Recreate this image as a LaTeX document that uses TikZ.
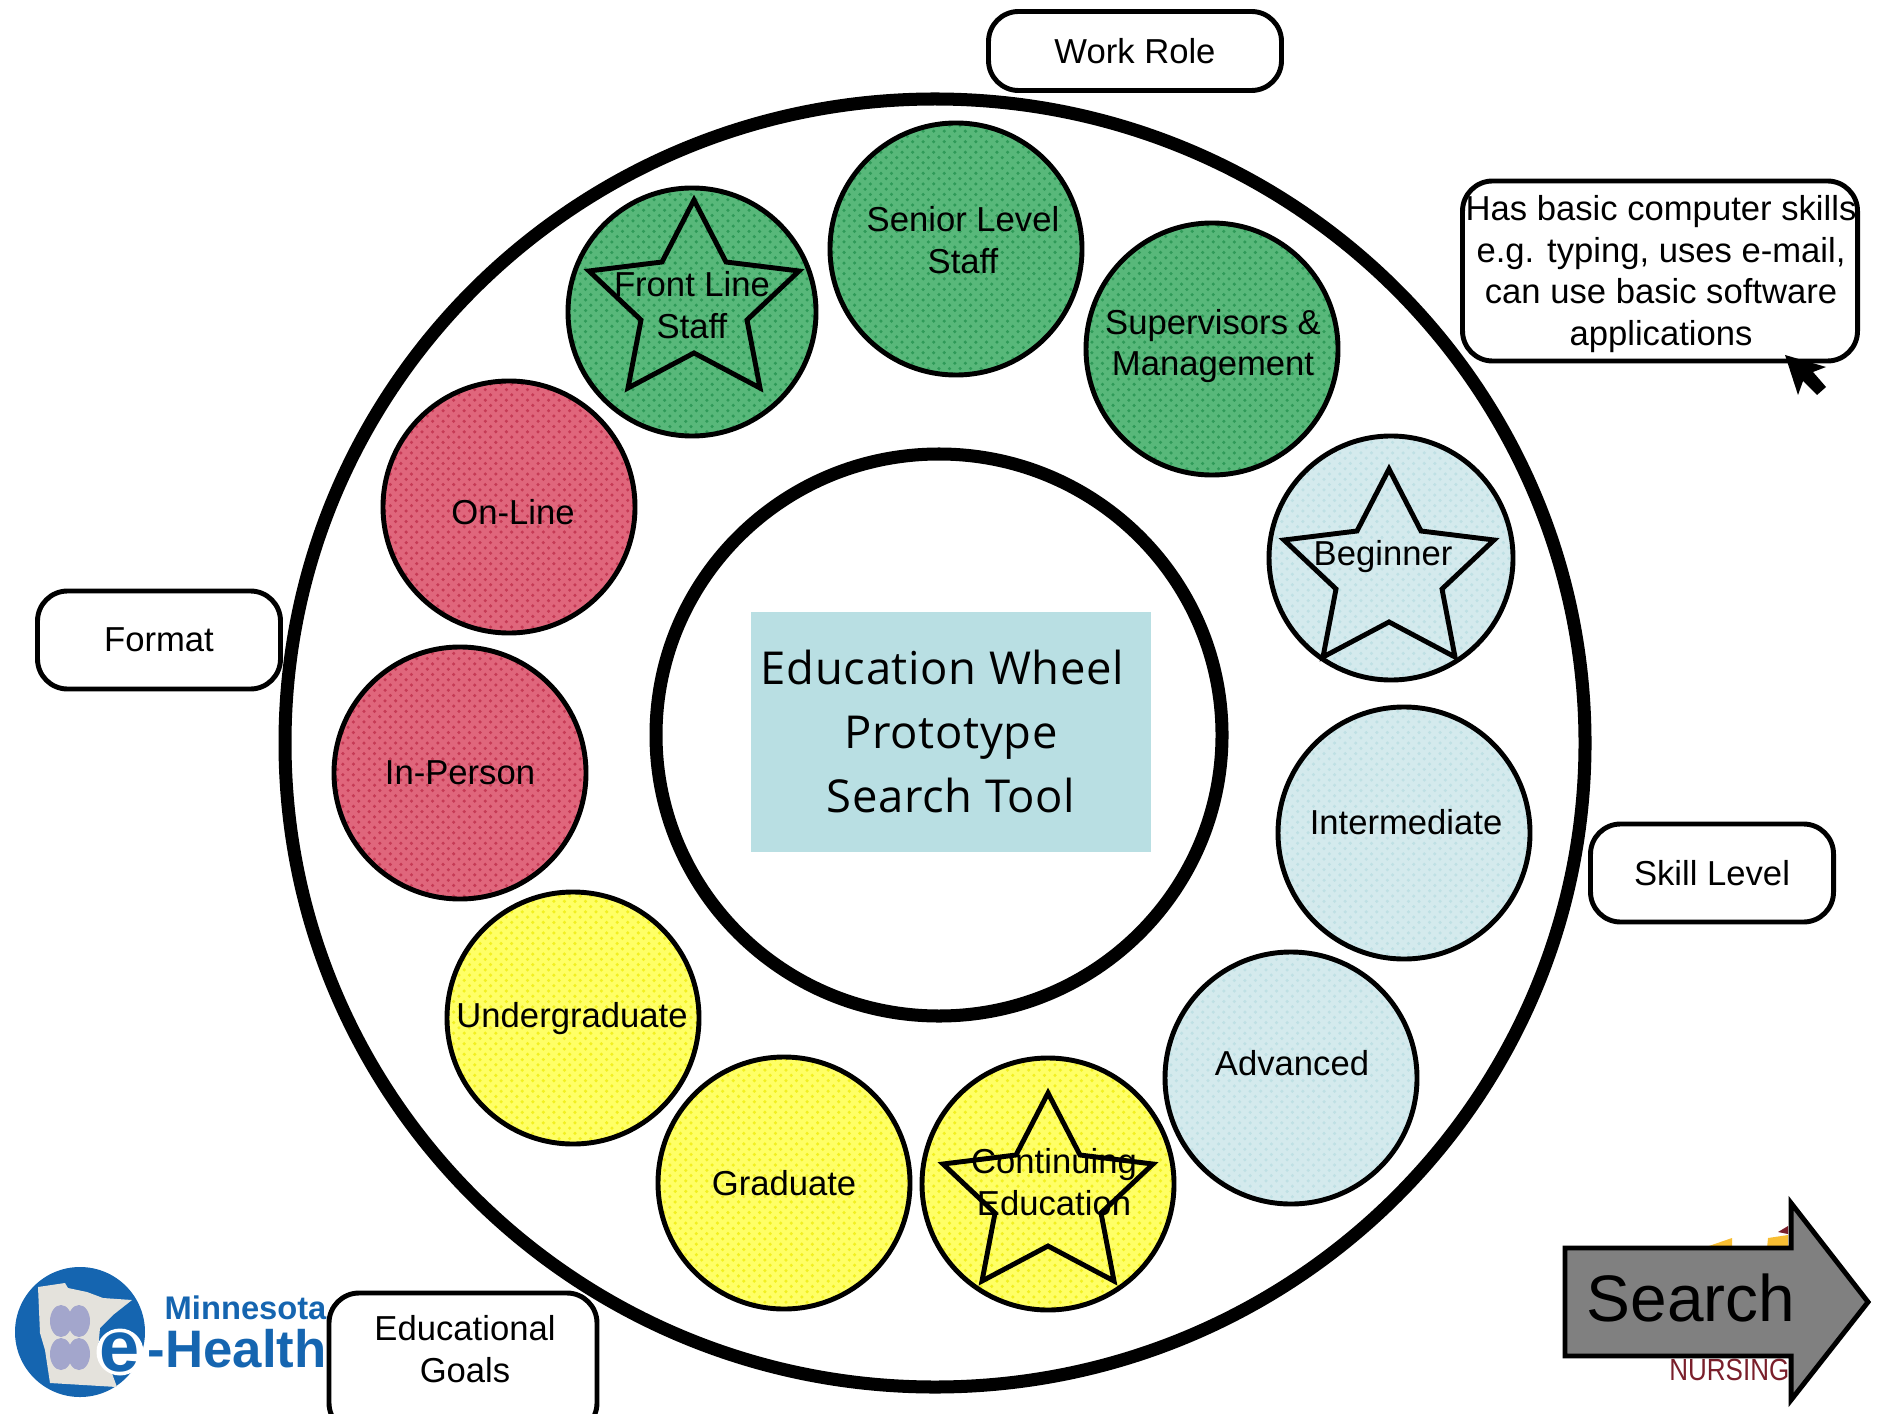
\documentclass[tikz,border=0pt]{standalone}
\usepackage{fontspec}
\usepackage{graphicx}
\setmainfont{Liberation Sans}
\newfontfamily\wheelfont[LetterSpace=1.5]{Open Sans}
\usetikzlibrary{shapes,patterns,positioning}
\definecolor{roleGreen}{HTML}{58B87A}
\definecolor{roleGreenDark}{HTML}{2F9A58}
\definecolor{formatRed}{HTML}{E0667C}
\definecolor{formatRedDark}{HTML}{C63A55}
\definecolor{goalYellow}{HTML}{FFFF66}
\definecolor{goalYellowDark}{HTML}{F2F020}
\definecolor{skillBlue}{HTML}{D4EAED}
\definecolor{skillBlueDark}{HTML}{BFE0E4}
\definecolor{hubBlue}{HTML}{B9DFE3}
\definecolor{logoBlue}{HTML}{1565B0}
\definecolor{logoMap}{HTML}{E4E2DC}
\definecolor{logoFlower}{HTML}{A3A6CC}
\definecolor{nursingRed}{HTML}{7A1F2B}
\definecolor{nursingGold}{HTML}{F8BE33}
\newlength{\wheelunit}
\setlength{\wheelunit}{0.01cm}
\tikzset{
  wheelring/.style={draw, ellipse, line width=3.7pt, inner sep=0pt},
  choice/.style={draw, circle, line width=1.4pt, minimum size=252\wheelunit, inner sep=0pt},
  dithered/.style 2 args={preaction={fill=#1}, preaction={pattern=crosshatch dots, pattern color=#2}},
  rolefill/.style={dithered={roleGreen}{roleGreenDark}},
  formatfill/.style={dithered={formatRed}{formatRedDark}},
  goalfill/.style={dithered={goalYellow}{goalYellowDark}},
  skillfill/.style={dithered={skillBlue}{skillBlueDark}},
  choicetext/.style={align=center, font=\fontsize{9.85}{11.9}\selectfont},
  category/.style={draw, rectangle, rounded corners=0.3cm, line width=1.4pt, fill=white, inner sep=0pt,
    align=center, font=\fontsize{9.85}{11.9}\selectfont},
  starmark/.pic={
    \draw[line width=1.4pt, line join=miter, miter limit=3] (0,0) -- (32,62) -- (105,71) -- (53,120) -- (66,188) -- (0,153)
      -- (-66,188) -- (-53,120) -- (-105,71) -- (-32,62) -- cycle;
  }
}
\begin{document}
\begin{tikzpicture}[x=0.01cm, y=-0.01cm]
\clip (0,0) rectangle (1883,1413);

% logos behind everything
\node[fill=logoBlue, circle, minimum size=130\wheelunit, inner sep=0pt] (logodisc) at (80,1332) {};
\fill[logoMap] (38,1287) -- (65,1283) -- (68,1288) -- (87,1292) -- (103,1298) -- (132,1300) -- (113,1315) -- (100,1328)
  -- (98,1350) -- (110,1368) -- (117,1387) -- (50,1383) -- (45,1350) -- (40,1333) -- cycle;
\fill[logoFlower] (61,1321) ellipse (11 and 16);
\fill[logoFlower] (79,1321) ellipse (11 and 16);
\fill[logoFlower] (61,1354) ellipse (11 and 16);
\fill[logoFlower] (79,1354) ellipse (11 and 16);
\node[text=logoBlue, anchor=base west, inner sep=0pt, font=\fontsize{9.3}{9.3}\selectfont\bfseries] (logotop) at (164,1319) {Minnesota};
\node[text=logoBlue, anchor=base west, inner sep=0pt, font=\fontsize{15}{15}\selectfont\bfseries] (logohealth) at (147,1367) {-Health};
\node[circle, fill=white, minimum size=47\wheelunit, inner sep=0pt] (logohalo) at (120,1352) {};
\node[text=logoBlue, inner sep=0pt, font=\fontsize{20.5}{20.5}\selectfont\bfseries] (logoe) at (120,1352) {e};

\fill[nursingGold] (1703,1248) -- (1732,1238) -- (1732,1248) -- cycle;
\fill[nursingGold] (1767,1248) -- (1768,1238) -- (1788,1235) -- (1788,1248) -- cycle;
\fill[nursingRed] (1778,1232) -- (1788,1226) -- (1788,1234) -- cycle;
\node[text=nursingRed, anchor=base east, inner sep=0pt, font=\fontsize{8.7}{8.7}\selectfont] (nursing) at (1790,1380) {\scalebox{0.85}[1]{NURSING}};

% wheel
\node[wheelring, minimum width=1300\wheelunit, minimum height=1288\wheelunit] (outerwheel) at (935,743) {};
\node[wheelring, minimum width=566\wheelunit, minimum height=562\wheelunit] (innerwheel) at (939,735) {};
\node[fill=hubBlue, minimum width=400\wheelunit, minimum height=240\wheelunit, inner sep=0pt] (hub) at (951,732) {};
\node[align=center, font=\wheelfont\fontsize{12.9}{18.2}\selectfont] (hubtext) at (951,731) {Education Wheel\hspace*{0.17cm}\\Prototype\\Search Tool};

% work role
\node[choice, rolefill] (senior) at (956,249) {};
\node[choice, rolefill] (supervisors) at (1212,349) {};
\node[choice, rolefill, minimum size=248\wheelunit] (frontline) at (692,312) {};
\pic at (694,200) {starmark};
\node[choicetext] (seniortext) at (963,240) {Senior Level\\Staff};
\node[choicetext] (supervisorstext) at (1213,346) {Supervisors \&\\Management};
\node[choicetext] (frontlinetext) at (692,305) {Front Line\\Staff};

% format
\node[choice, formatfill] (online) at (509,507) {};
\node[choice, formatfill] (inperson) at (460,773) {};
\node[choicetext] (onlinetext) at (513,512) {On-Line};
\node[choicetext] (inpersontext) at (460,773) {In-Person};

% educational goals
\node[choice, goalfill] (undergrad) at (573,1018) {};
\node[choice, goalfill] (graduate) at (784,1183) {};
\node[choice, goalfill] (continuing) at (1048,1184) {};
\pic at (1048,1093) {starmark};
\node[choicetext] (undergradtext) at (572,1019) {Undergraduate};
\node[choicetext] (graduatetext) at (784,1183) {Graduate};
\node[choicetext] (continuingtext) at (1054,1182) {Continuing\\Education};

% skill level
\node[choice, skillfill, minimum size=244\wheelunit] (beginner) at (1391,558) {};
\pic at (1389,469) {starmark};
\node[choice, skillfill] (intermediate) at (1404,833) {};
\node[choice, skillfill] (advanced) at (1291,1078) {};
\node[choicetext] (beginnertext) at (1383,557) {Beginner};
\node[choicetext] (intermediatetext) at (1406,822) {Intermediate};
\node[choicetext] (advancedtext) at (1292,1063) {Advanced};

% category labels
\node[category, minimum width=293\wheelunit, minimum height=79\wheelunit] (workrole) at (1135,51) {Work Role};
\node[category, minimum width=243\wheelunit, minimum height=98\wheelunit] (format) at (159,640) {Format};
\node[category, minimum width=243\wheelunit, minimum height=98\wheelunit] (skilllevel) at (1712,873) {Skill Level};
\node[category, minimum width=268\wheelunit, minimum height=140\wheelunit] (goals) at (463,1363) {};
\node[choicetext] (goalstext) at (465,1349) {Educational\\Goals};
\node[category, minimum width=395\wheelunit, minimum height=180\wheelunit] (infobox) at (1660,271) {};
\node[choicetext] (infotext) at (1661,274) {Has basic computer skills\\e.g. typing, uses e-mail,\\can use basic software\\applications};

% pointer and search arrow
\fill (1785,355) -- (1826,367) -- (1813,372) -- (1826,387) -- (1817,395) -- (1803,381) -- (1798,395) -- cycle;
\draw[line width=1.4pt, fill=gray, line join=miter] (1565,1248) -- (1791,1248) -- (1791,1203) -- (1868,1302)
  -- (1791,1400) -- (1791,1356) -- (1565,1356) -- cycle;
\node[inner sep=0pt, font=\fontsize{18.7}{18.7}\selectfont] (searchtext) at (1691,1298) {Search};
\end{tikzpicture}
\end{document}
